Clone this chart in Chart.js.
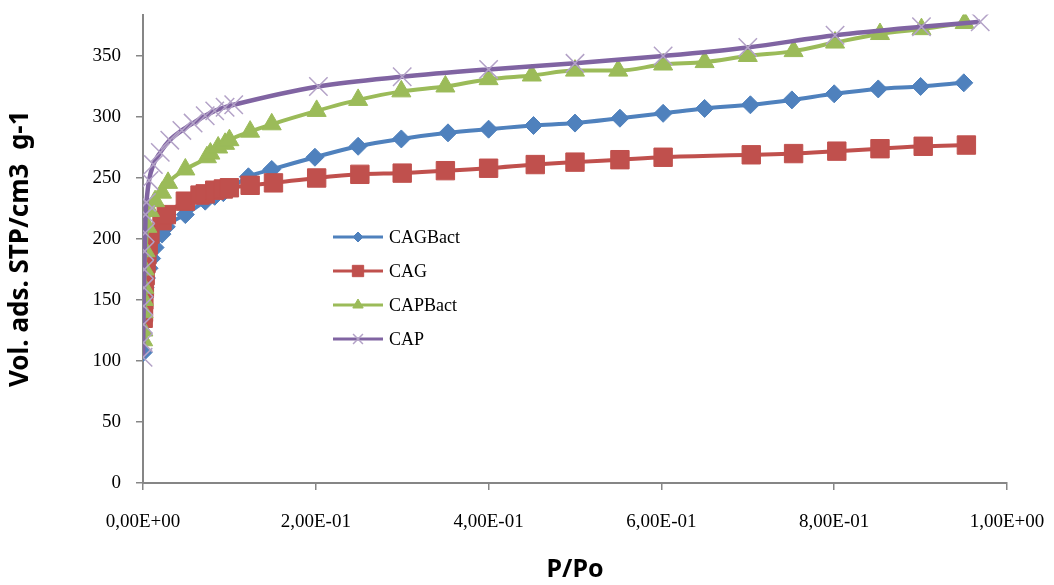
<!DOCTYPE html>
<html>
<head>
<meta charset="utf-8">
<script src="https://cdn.jsdelivr.net/npm/chart.js@4/dist/chart.umd.min.js"></script>
<style>
  body { margin: 0; background: #fff; }
  #wrap { width: 1054px; height: 585px; position: relative; }
</style>
</head>
<body>
<div id="wrap"><canvas id="chart"></canvas></div>
<script>
// P/Po (x) and adsorbed volume (y) for each sample
const xCAGBact = [0.0002, 0.0006, 0.001, 0.0016, 0.0025, 0.004, 0.007, 0.01, 0.014, 0.022, 0.027, 0.049, 0.072, 0.083, 0.093, 0.1, 0.122, 0.149, 0.199, 0.249, 0.299, 0.353, 0.40, 0.452, 0.50, 0.552, 0.602, 0.65, 0.703, 0.751, 0.80, 0.851, 0.90, 0.95];
const yCAGBact = [107, 132, 145, 152, 160, 168, 176, 184, 193, 204, 210, 220, 231, 235, 238, 241, 251, 257, 267, 276, 282, 287, 290, 293, 295, 299, 303, 307, 310, 314, 319, 323, 325, 328];

const xCAG = [0.0002, 0.0006, 0.001, 0.0016, 0.0025, 0.0035, 0.0045, 0.006, 0.008, 0.022, 0.027, 0.049, 0.066, 0.072, 0.083, 0.093, 0.1, 0.124, 0.151, 0.201, 0.251, 0.30, 0.35, 0.40, 0.454, 0.50, 0.552, 0.602, 0.704, 0.753, 0.803, 0.853, 0.903, 0.953];
const yCAG = [135, 140, 150, 160, 170, 180, 187, 195, 204, 215, 220, 231, 236, 237, 240, 241, 242, 244, 246, 250, 253, 254, 256, 258, 261, 263, 265, 267, 269, 270, 272, 274, 276, 277];

const xCAPBact = [0.0002, 0.0004, 0.0007, 0.001, 0.0015, 0.002, 0.003, 0.005, 0.008, 0.014, 0.022, 0.029, 0.049, 0.074, 0.078, 0.087, 0.095, 0.1, 0.124, 0.149, 0.201, 0.249, 0.299, 0.35, 0.40, 0.45, 0.50, 0.55, 0.602, 0.65, 0.70, 0.753, 0.801, 0.853, 0.901, 0.951];
const yCAPBact = [117, 125, 140, 150, 160, 175, 190, 210, 223, 231, 238, 246, 257, 267, 270, 275, 278, 281, 288, 294, 305, 314, 321, 325, 331, 334, 338, 338, 343, 345, 350, 354, 361, 368, 372, 377];

const xCAP = [0.0001, 0.0003, 0.0005, 0.0008, 0.0012, 0.0016, 0.002, 0.0025, 0.003, 0.004, 0.007, 0.012, 0.02, 0.031, 0.045, 0.058, 0.072, 0.083, 0.095, 0.105, 0.203, 0.30, 0.40, 0.50, 0.602, 0.70, 0.801, 0.901, 0.969];
const yCAP = [103, 115, 130, 145, 160, 175, 190, 205, 220, 230, 248, 261, 271, 281, 289, 295, 301, 305, 308, 310, 325, 333, 339, 344, 350, 357, 367, 374, 378];

const seriesLabels = ['CAGBact', 'CAG', 'CAPBact', 'CAP'];

function toPoints(xs, ys) {
    return xs.map((x, i) => ({ x: x, y: ys[i] }));
}

// Excel style "0,00E+00"
function sciLabel(v) {
    if (Math.abs(v) < 1e-12) return '0,00E+00';
    let e = Math.floor(Math.log10(Math.abs(v)) + 1e-9);
    let m = v / Math.pow(10, e);
    const sign = e < 0 ? '-' : '+';
    const ex = String(Math.abs(e)).padStart(2, '0');
    return m.toFixed(2).replace('.', ',') + 'E' + sign + ex;
}

// legend drawn inside the plot, like the original
const legendSizes = [5, 8, 6, 7];
const insideLegend = {
    id: 'insideLegend',
    afterDraw(chart) {
        const ctx = chart.ctx;
        const x0 = 333, x1 = 383, top = 237, gap = 34;
        chart.data.datasets.forEach((ds, i) => {
            const y = top + i * gap;
            ctx.save();
            ctx.strokeStyle = ds.borderColor;
            ctx.lineWidth = 3;
            ctx.beginPath();
            ctx.moveTo(x0, y);
            ctx.lineTo(x1, y);
            ctx.stroke();
            ctx.fillStyle = ds.pointBackgroundColor || ds.backgroundColor;
            ctx.strokeStyle = ds.pointBorderColor || ds.borderColor;
            ctx.lineWidth = ds.pointBorderWidth;
            Chart.helpers.drawPoint(ctx, {
                pointStyle: ds.pointStyle,
                radius: legendSizes[i],
                rotation: 0,
                borderWidth: ds.pointBorderWidth
            }, (x0 + x1) / 2, y);
            ctx.fillStyle = '#000';
            ctx.font = '18px "Liberation Serif"';
            ctx.textBaseline = 'middle';
            ctx.textAlign = 'left';
            ctx.fillText(ds.label, 389, y + 1);
            ctx.restore();
        });
    }
};

const axisColor = '#868686';

const datasets = [
    {
        label: seriesLabels[0],
        data: toPoints(xCAGBact, yCAGBact),
        borderColor: '#4F81BD',
        backgroundColor: '#4F81BD',
        pointBorderColor: '#4F81BD',
        borderWidth: 4,
        pointStyle: 'rectRot',
        pointRadius: 9,
        pointBorderWidth: 1,
        order: 4,
    },
    {
        label: seriesLabels[1],
        data: toPoints(xCAG, yCAG),
        borderColor: '#C0504D',
        backgroundColor: '#C0504D',
        pointBorderColor: '#C0504D',
        borderWidth: 4,
        pointStyle: 'rect',
        pointRadius: 13,
        pointBorderWidth: 1,
        order: 3,
    },
    {
        label: seriesLabels[2],
        data: toPoints(xCAPBact, yCAPBact),
        borderColor: '#9BBB59',
        backgroundColor: '#9BBB59',
        pointBorderColor: '#9BBB59',
        borderWidth: 4,
        pointStyle: 'triangle',
        pointRadius: 11,
        pointBorderWidth: 1,
        order: 2,
    },
    {
        label: seriesLabels[3],
        data: toPoints(xCAP, yCAP),
        borderColor: '#8064A2',
        backgroundColor: '#8064A2',
        pointBorderColor: '#B3A2C7',
        borderWidth: 4.5,
        pointStyle: 'crossRot',
        pointRadius: 13,
        pointBorderWidth: 1.5,
        order: 1,
    },
];
datasets.forEach(ds => {
    ds.showLine = true;
    ds.cubicInterpolationMode = 'monotone';
    ds.pointHoverRadius = ds.pointRadius;
});

new Chart(document.getElementById('chart'), {
    type: 'scatter',
    data: { datasets: datasets },
    options: {
        responsive: true,
        maintainAspectRatio: false,
        animation: false,
        events: [],
        layout: { padding: { top: 13, right: 47, left: 0, bottom: 0 } },
        plugins: {
            legend: { display: false },
            tooltip: { enabled: false },
        },
        scales: {
            x: {
                type: 'linear',
                min: 0,
                max: 1,
                afterFit: scale => {
                    scale.height = 102;
                    scale.paddingLeft = 0;
                    scale.paddingRight = 0;
                },
                ticks: {
                    stepSize: 0.2,
                    callback: v => sciLabel(v),
                    font: { family: 'Liberation Serif', size: 19 },
                    color: '#000',
                    padding: 21,
                    maxRotation: 0,
                },
                grid: { drawOnChartArea: false, tickLength: 7, color: axisColor, lineWidth: 1.5 },
                border: { color: axisColor, width: 2 },
                title: {
                    display: true,
                    text: 'P/Po',
                    font: { family: 'Noto Sans', size: 25, weight: 'bold' },
                    color: '#000',
                    padding: { top: 0, bottom: 0 },
                },
            },
            y: {
                min: 0,
                max: 384,
                afterFit: scale => {
                    scale.width = 143;
                    scale.paddingTop = 0;
                    scale.paddingBottom = 0;
                },
                afterBuildTicks: scale => {
                    scale.ticks = scale.ticks.filter(t => t.value % 50 === 0);
                },
                ticks: {
                    stepSize: 50,
                    font: { family: 'Liberation Serif', size: 19 },
                    color: '#000',
                    padding: 15,
                },
                grid: { drawOnChartArea: false, tickLength: 7, color: axisColor, lineWidth: 1.5 },
                border: { color: axisColor, width: 2 },
                title: {
                    display: true,
                    text: 'Vol. ads. STP/cm3  g-1',
                    font: { family: 'Noto Sans', size: 26, weight: 'bold' },
                    color: '#000',
                    padding: { top: 5, bottom: 0 },
                },
            },
        },
    },
    plugins: [insideLegend],
});
</script>
</body>
</html>
